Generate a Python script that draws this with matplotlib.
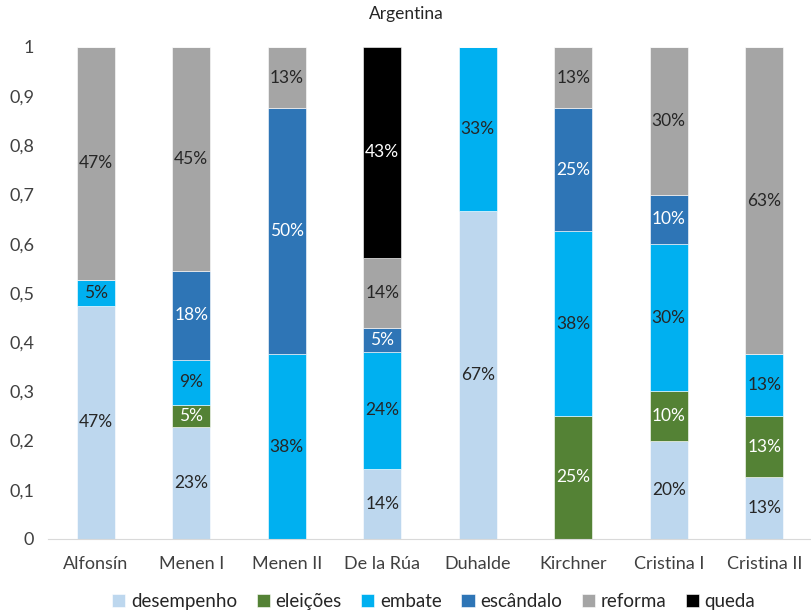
import numpy as np
import matplotlib.pyplot as plt

plt.rcParams.update({
    "font.family": ["Lato", "DejaVu Sans"],
    "font.size": 12,
})

presidents = ["Alfonsín", "Menen I", "Menen II", "De la Rúa", "Duhalde",
              "Kirchner", "Cristina I", "Cristina II"]

desempenho = [9/19, 5/22, 0, 3/21, 2/3, 0, 2/10, 1/8]
eleicoes = [0, 1/22, 0, 0, 0, 2/8, 1/10, 1/8]
embate = [1/19, 2/22, 3/8, 5/21, 1/3, 3/8, 3/10, 1/8]
escandalo = [0, 4/22, 4/8, 1/21, 0, 2/8, 1/10, 0]
reforma = [9/19, 10/22, 1/8, 3/21, 0, 1/8, 3/10, 5/8]
queda = [0, 0, 0, 9/21, 0, 0, 0, 0]

series = [
    ("desempenho", desempenho, "#BDD7EE", "#262626"),
    ("eleições", eleicoes, "#548235", "white"),
    ("embate", embate, "#00B0F0", "#262626"),
    ("escândalo", escandalo, "#2E75B6", "white"),
    ("reforma", reforma, "#A5A5A5", "#262626"),
    ("queda", queda, "#000000", "white"),
]

fig = plt.figure(figsize=(8.12, 6.12), dpi=100)
ax = fig.add_axes([0.059, 0.1193, 0.941, 0.804])

x = np.arange(len(presidents))
bottom = np.zeros(len(presidents))
for name, vals, color, tcolor in series:
    vals = np.array(vals)
    ax.bar(x, vals, 0.4, bottom=bottom, color=color, label=name,
           edgecolor="white", linewidth=0.4)
    for xi, b, v in zip(x, bottom, vals):
        if v > 0:
            ax.text(xi, b + v / 2, f"{int(v * 100 + 0.5)}%", ha="center",
                    va="center", color=tcolor, fontsize=12.5)
    bottom += vals

ax.set_xlim(-0.5, len(presidents) - 0.5)
ax.set_ylim(0, 1)
ax.set_yticks(np.arange(0, 1.01, 0.1))
ax.set_yticklabels(["0", "0,1", "0,2", "0,3", "0,4", "0,5", "0,6", "0,7",
                    "0,8", "0,9", "1"])
ax.set_xticks(x)
ax.set_xticklabels(presidents)
ax.tick_params(axis="both", length=0, labelsize=13, colors="#404040")
ax.tick_params(axis="y", pad=10)
ax.tick_params(axis="x", pad=12)
for s in ["top", "right", "left"]:
    ax.spines[s].set_visible(False)
ax.spines["bottom"].set_color("#D9D9D9")

fig.text(0.5, 0.977, "Argentina", ha="center", va="center", fontsize=12.5,
         color="#262626")

ax.legend(loc="center", bbox_to_anchor=(0.505, -0.127), ncol=6, frameon=False,
          handlelength=0.7, handleheight=0.7, handletextpad=0.3,
          columnspacing=1.05, fontsize=13.5, labelcolor="#262626")

plt.savefig("out.png", dpi=100)
plt.close()
